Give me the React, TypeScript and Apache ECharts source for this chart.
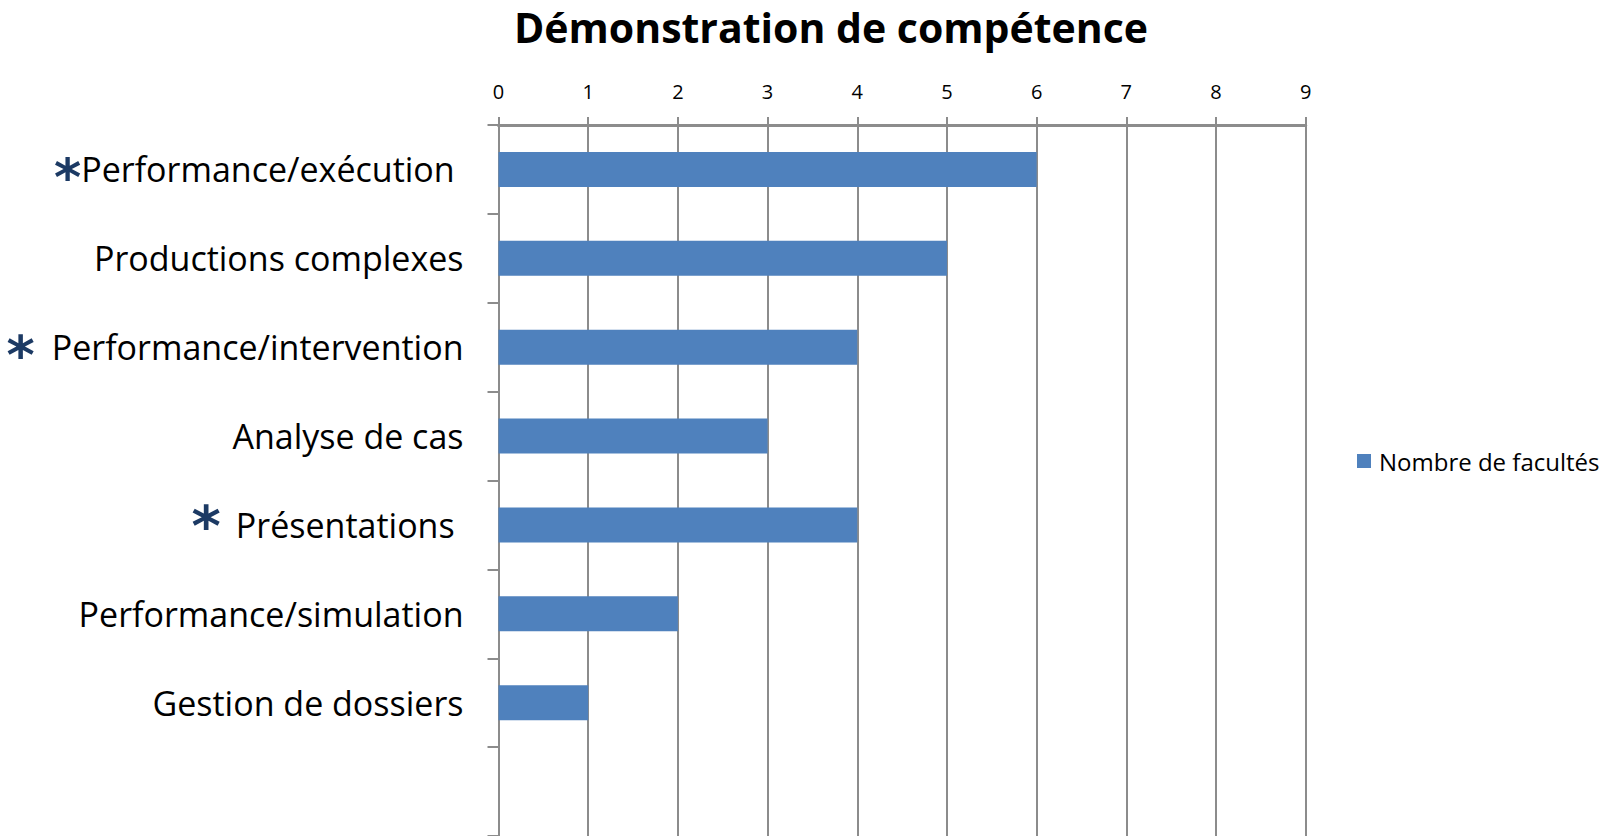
import React, { useEffect, useRef } from "react";
import * as echarts from "echarts";

const chartTitle = "Démonstration de compétence";
const seriesName = "Nombre de facultés";
// last category is the row that is cut off at the bottom of the picture
const categories = [
  "Performance/exécution",
  "Productions complexes",
  "Performance/intervention",
  "Analyse de cas",
  "Présentations",
  "Performance/simulation",
  "Gestion de dossiers",
  "",
];
const values: (number | null)[] = [6, 5, 4, 3, 4, 2, 1, null];
// which categories carry an asterisk, and which star style they use
const starStyle = ["s0", "", "s2", "", "s4", "", "", ""];
const trailingSpace = [true, false, false, false, true, false, false, false];
const xTicks = [0, 1, 2, 3, 4, 5, 6, 7, 8, 9];

const GRAY = "#8c8c8c";
const BLUE = "#4f81bd";
const NAVY = "#1c3a64";
const FONT = "'Open Sans', sans-serif";

export default function App() {
  const ref = useRef<HTMLDivElement>(null);
  useEffect(() => {
    if (!ref.current) return;
    const chart = echarts.init(ref.current, null, { renderer: "svg" });
    const starBase = {
      fontFamily: "'DejaVu Sans', sans-serif",
      fontWeight: "bold" as const,
      color: NAVY,
    };
    chart.setOption({
      animation: false,
      backgroundColor: "#ffffff",
      title: {
        text: chartTitle,
        left: 826,
        top: -2,
        textAlign: "center",
        padding: [5, 5, 5, 5],
        textStyle: {
          fontFamily: FONT,
          fontWeight: "bold",
          fontSize: 41,
          lineHeight: 48,
          color: "#000",
        },
      },
      legend: {
        data: [seriesName],
        left: 1352,
        top: 444,
        icon: "rect",
        itemWidth: 14,
        itemHeight: 14,
        textStyle: {
          fontFamily: FONT,
          fontSize: 24,
          color: "#000",
          padding: [0, 0, 0, 3],
        },
      },
      grid: {
        left: 498.5,
        right: 306.3,
        top: 125,
        bottom: -1,
        containLabel: false,
      },
      xAxis: {
        type: "value",
        position: "top",
        min: xTicks[0],
        max: xTicks[xTicks.length - 1],
        interval: 1,
        axisLine: { show: true, lineStyle: { color: GRAY, width: 3 } },
        axisTick: { show: true, length: 8, lineStyle: { color: GRAY, width: 2 } },
        splitLine: { show: true, lineStyle: { color: GRAY, width: 2 } },
        axisLabel: {
          margin: 24,
          fontFamily: FONT,
          fontSize: 20,
          color: "#000",
        },
      },
      yAxis: {
        type: "category",
        inverse: true,
        data: categories,
        axisLine: { show: true, lineStyle: { color: GRAY, width: 2 } },
        axisTick: {
          show: true,
          interval: 0,
          length: 11,
          lineStyle: { color: GRAY, width: 2 },
        },
        splitLine: { show: false },
        axisLabel: {
          interval: 0,
          margin: 35,
          fontFamily: FONT,
          fontSize: 34,
          color: "#000",
          formatter: (v: string, i: number) => {
            if (!v) return "";
            const s = starStyle[i];
            const t = "{t|" + v + (trailingSpace[i] ? " " : "") + "}";
            return s ? "{" + s + "|*}" + t : t;
          },
          rich: {
            t: { fontFamily: FONT, fontSize: 34, color: "#000" },
            s0: { ...starBase, fontSize: 52, padding: [16, 0, 0, 0] },
            s2: { ...starBase, fontSize: 54, padding: [16, 17, 0, 0] },
            s4: { ...starBase, fontSize: 56, padding: [2, 15, 0, 0] },
          },
        },
      },
      series: [
        {
          name: seriesName,
          type: "bar",
          data: values,
          barWidth: 35,
          itemStyle: { color: BLUE },
        },
      ],
    });
    return () => chart.dispose();
  }, []);
  return (
    <div
      ref={ref}
      style={{
        position: "fixed",
        left: 0,
        top: 0,
        width: 1612,
        height: 836,
        background: "#fff",
      }}
    />
  );
}
